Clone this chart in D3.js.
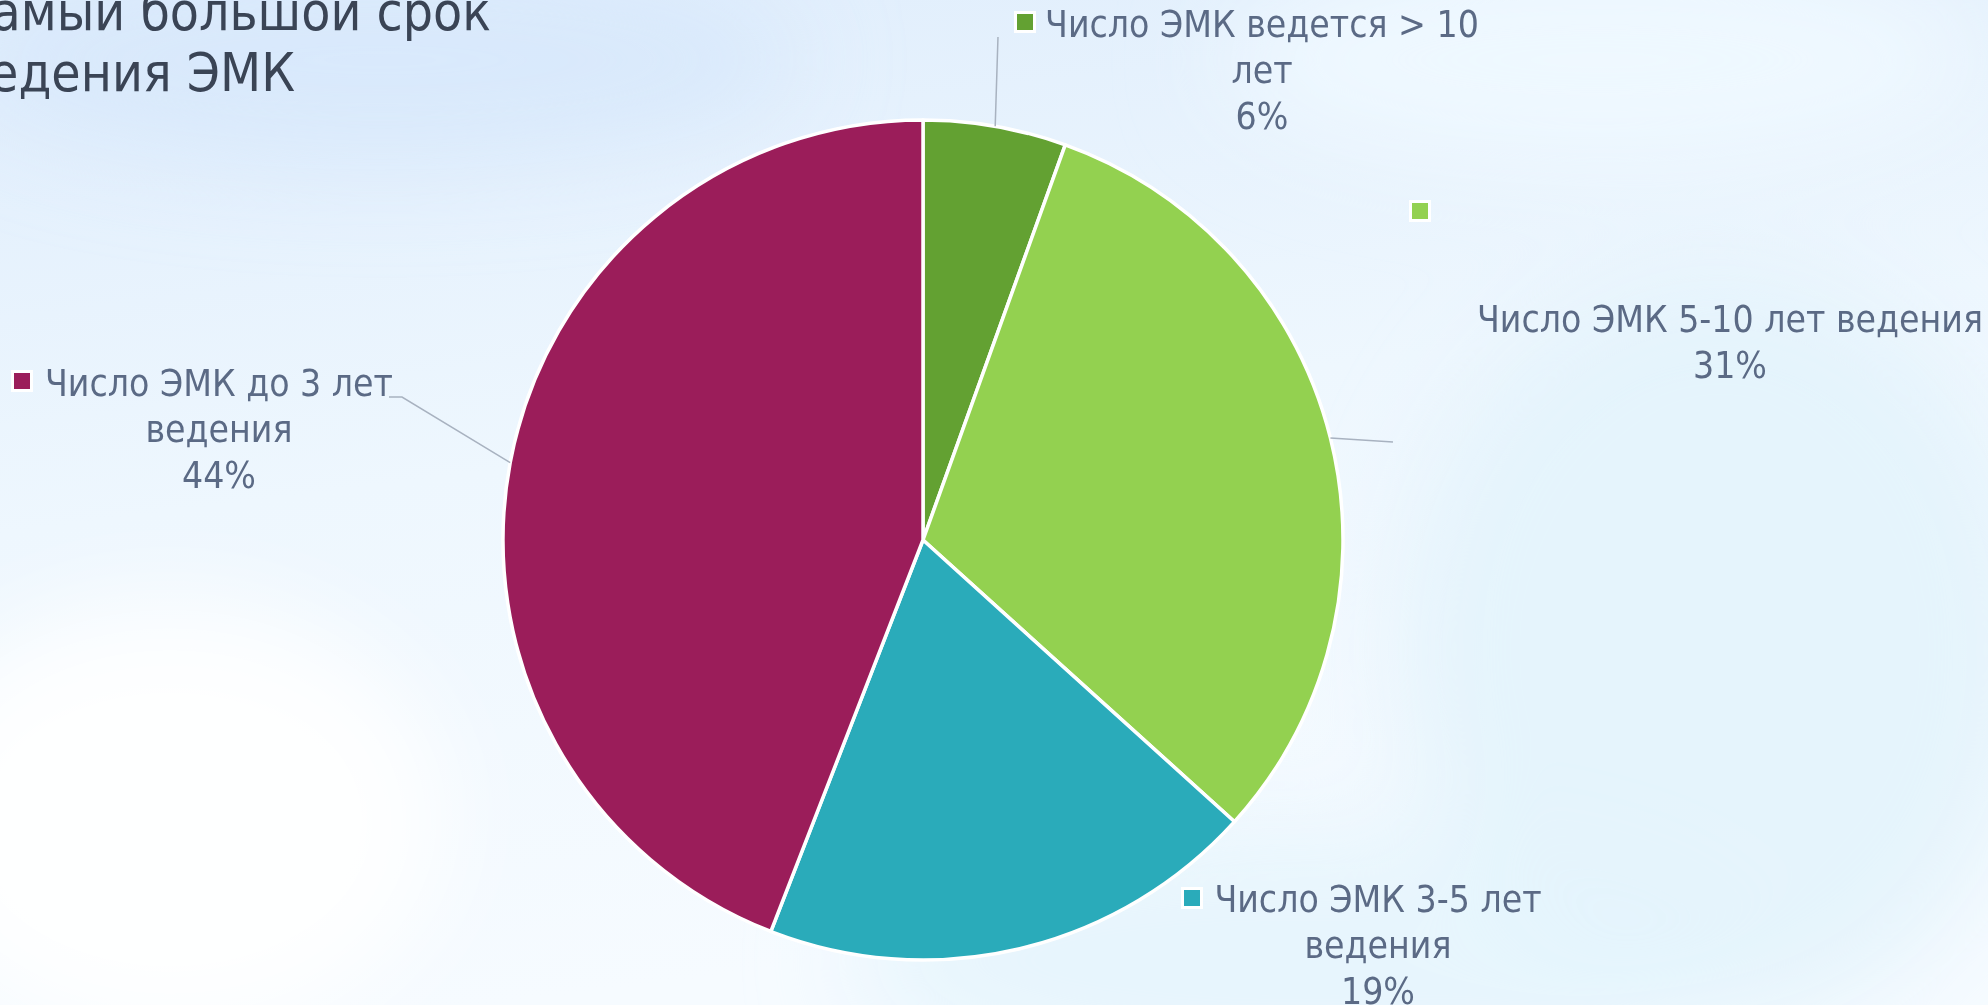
<!DOCTYPE html>
<html>
<head>
<meta charset="utf-8">
<script src="https://cdn.jsdelivr.net/npm/d3@7"></script>
<style>
  html, body { margin: 0; padding: 0; overflow: hidden; }
  svg { display: block; }
</style>
</head>
<body>
<div id="chart"></div>
<script>
// Chart data
const categories = ["Число ЭМК ведется > 10 лет", "Число ЭМК 5-10 лет ведения", "Число ЭМК 3-5 лет ведения", "Число ЭМК до 3 лет ведения"];
const shares = [5.5, 31.2, 19.2, 44.1];
const sliceColors = ["#63a132", "#93d150", "#2aabba", "#9b1d5a"];
// How each label wraps (last line is the percentage)
const labelLines = [["Число ЭМК ведется > 10", "лет"], ["Число ЭМК 5-10 лет ведения"], ["Число ЭМК 3-5 лет", "ведения"], ["Число ЭМК до 3 лет", "ведения"]];
const titleLines = ["Самый большой срок", "ведения ЭМК"];

const width = 1988;
const height = 1005;
const cx = 923, cy = 540, radius = 420;
const font = "'DejaVu Sans Condensed', 'DejaVu Sans', Tahoma, sans-serif";
const textColor = "#5b6a85";

// Label placement
const labelLayout = [
    { x: 1262, y: 37, marker: [1025, 22], leader: [[998, 37]] },
    { x: 1730, y: 332, marker: [1420, 211], leader: [[1393, 442]] },
    { x: 1378, y: 912, marker: [1192, 898], leader: null },
    { x: 219, y: 396, marker: [22, 381], leader: [[402, 397], [389, 397]] }
];

const svg = d3.select("#chart").append("svg")
    .attr("width", width)
    .attr("height", height);

// Background: soft light blue slide
const defs = svg.append("defs");
const bg = defs.append("linearGradient")
    .attr("id", "bg")
    .attr("x1", "0").attr("y1", "0").attr("x2", "0.25").attr("y2", "1");
bg.append("stop").attr("offset", "0").attr("stop-color", "#dfedfc");
bg.append("stop").attr("offset", "0.5").attr("stop-color", "#eef7fe");
bg.append("stop").attr("offset", "1").attr("stop-color", "#f6fbff");
defs.append("filter").attr("id", "blur")
    .attr("x", "-50%").attr("y", "-50%").attr("width", "200%").attr("height", "200%")
    .append("feGaussianBlur").attr("stdDeviation", 50);

svg.append("rect").attr("width", width).attr("height", height).attr("fill", "url(#bg)");

const blobs = svg.append("g").attr("filter", "url(#blur)");
blobs.append("ellipse").attr("cx", 1720).attr("cy", 650).attr("rx", 320).attr("ry", 380).attr("fill", "#e3f3fc").attr("opacity", 0.9);
blobs.append("ellipse").attr("cx", 1300).attr("cy", 960).attr("rx", 450).attr("ry", 130).attr("fill", "#e4f4fd").attr("opacity", 0.8);
blobs.append("ellipse").attr("cx", 1600).attr("cy", 60).attr("rx", 380).attr("ry", 110).attr("fill", "#f0f8ff").attr("opacity", 0.9);
blobs.append("ellipse").attr("cx", 380).attr("cy", 60).attr("rx", 420).attr("ry", 100).attr("fill", "#d6e7fb").attr("opacity", 0.8);
blobs.append("ellipse").attr("cx", 170).attr("cy", 820).attr("rx", 280).attr("ry", 220).attr("fill", "#ffffff").attr("opacity", 0.9);

// Title (partly cut off at the left edge)
svg.append("g")
    .selectAll("text")
    .data(titleLines)
    .enter().append("text")
    .attr("x", (d, i) => i === 0 ? 491 : 295)
    .attr("y", (d, i) => 30 + i * 61)
    .attr("text-anchor", "end")
    .attr("font-family", font)
    .attr("font-size", 53)
    .attr("fill", "#3a4455")
    .text(d => d);

// Pie
const pie = d3.pie().sort(null).value(d => d);
const arcs = pie(shares);
const arc = d3.arc().innerRadius(0).outerRadius(radius);
const total = d3.sum(shares);
const pct = d3.format(".0%");

const pieG = svg.append("g").attr("transform", `translate(${cx},${cy})`);
pieG.selectAll("path")
    .data(arcs)
    .enter().append("path")
    .attr("d", arc)
    .attr("fill", (d, i) => sliceColors[i])
    .attr("stroke", "#ffffff")
    .attr("stroke-width", 3.5)
    .attr("stroke-linejoin", "round");

// Leader lines from slice edge to label
const edgePoint = d => {
    const a = (d.startAngle + d.endAngle) / 2;
    return [cx + radius * Math.sin(a), cy - radius * Math.cos(a)];
};
svg.append("g")
    .selectAll("path")
    .data(arcs.filter((d, i) => labelLayout[i].leader))
    .enter().append("path")
    .attr("d", d => d3.line()([edgePoint(d)].concat(labelLayout[d.index].leader)))
    .attr("fill", "none")
    .attr("stroke", "#a8b2c0")
    .attr("stroke-width", 1.5);

// Labels
const labels = svg.append("g")
    .selectAll("g")
    .data(arcs)
    .enter().append("g");

labels.append("rect")
    .attr("x", (d, i) => labelLayout[i].marker[0] - 9.5)
    .attr("y", (d, i) => labelLayout[i].marker[1] - 9.5)
    .attr("width", 19)
    .attr("height", 19)
    .attr("fill", (d, i) => sliceColors[i])
    .attr("stroke", "#ffffff")
    .attr("stroke-width", 3);

labels.append("text")
    .attr("font-family", font)
    .attr("font-size", 37)
    .attr("fill", textColor)
    .attr("text-anchor", "middle")
    .selectAll("tspan")
    .data((d, i) => labelLines[i].concat([pct(d.data / total)]).map(t => ({ t: t, i: i })))
    .enter().append("tspan")
    .attr("x", d => labelLayout[d.i].x)
    .attr("y", (d, j) => labelLayout[d.i].y + j * 46)
    .text(d => d.t);
</script>
</body>
</html>
